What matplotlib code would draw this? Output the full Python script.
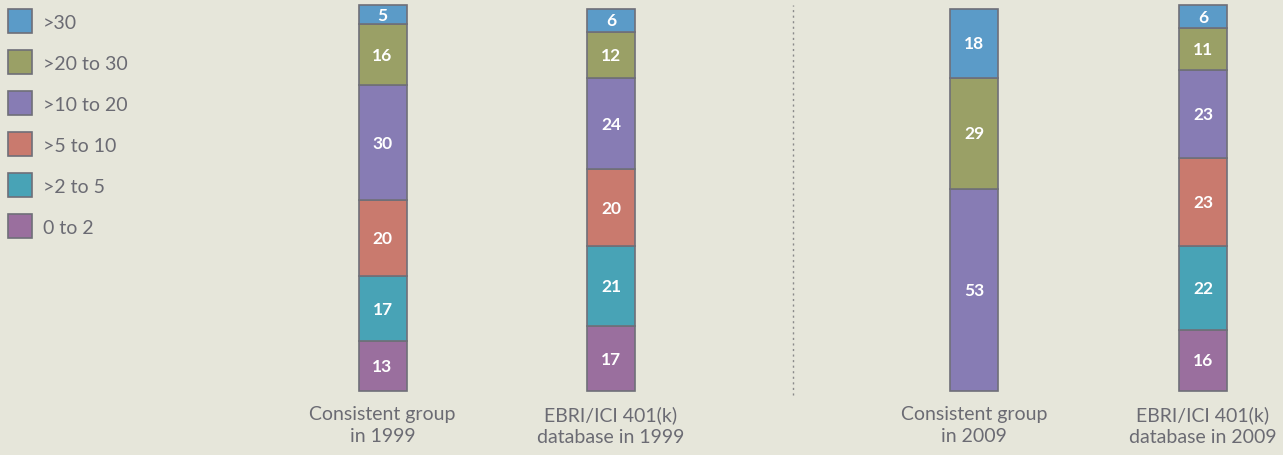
import matplotlib.pyplot as plt
from matplotlib.patches import Rectangle

categories = ["0 to 2", ">2 to 5", ">5 to 10", ">10 to 20", ">20 to 30", ">30"]
bar_labels = ["Consistent group\nin 1999", "EBRI/ICI 401(k)\ndatabase in 1999",
              "Consistent group\nin 2009", "EBRI/ICI 401(k)\ndatabase in 2009"]
# shares by bar, bottom to top
values = [
    [13, 17, 20, 30, 16, 5],
    [17, 21, 20, 24, 12, 6],
    [0, 0, 0, 53, 29, 18],
    [16, 22, 23, 23, 11, 6],
]
colors = ["#9a6f9e", "#48a3b6", "#c97a6e", "#877cb4", "#9aa066", "#5b9bc8"]

bg = "#e6e6da"
edge = "#6f6f78"
text_col = "#6b6b73"
plt.rcParams['font.family'] = ['Lato', 'DejaVu Sans']

fig = plt.figure(figsize=(12.83, 4.56), dpi=100, facecolor=bg)
ax = fig.add_axes([0, 0, 1, 1])
ax.set_facecolor(bg)
px = 3.82
ax.set_xlim(0, 1283)
ax.set_ylim(-(456 - 392) / px, 392 / px)
ax.axis("off")

xpos = [382.5, 611, 974, 1203]
width = 48
for x, vals, lab in zip(xpos, values, bar_labels):
    bottom = 0
    for v, c in zip(vals, colors):
        if v == 0:
            continue
        ax.bar(x, v, width=width, bottom=bottom, color=c, edgecolor=edge, linewidth=1.2)
        ax.text(x, bottom + v / 2, str(v), ha="center", va="center", color="white",
                fontsize=12.5, fontweight="bold")
        bottom += v
    ax.text(x, -3.6, lab, ha="center", va="top", color=text_col, fontsize=14,
            linespacing=1.4)

ax.plot([793, 793], [-1, 101], ls=(0, (1.5, 2.5)), color="#8a8a8a", lw=1)

# legend, top item first
for i, (cat, c) in enumerate(zip(categories[::-1], colors[::-1])):
    yc = 22 + i * 41
    fig.patches.append(Rectangle((8 / 1283, 1 - (yc + 12) / 456), 24 / 1283, 24 / 456,
                                 transform=fig.transFigure, facecolor=c,
                                 edgecolor=edge, linewidth=1.2))
    fig.text(43 / 1283, 1 - (yc + 2) / 456, cat, ha="left", va="center", color=text_col,
             fontsize=14)

fig.savefig("out.png", dpi=100, facecolor=bg)
